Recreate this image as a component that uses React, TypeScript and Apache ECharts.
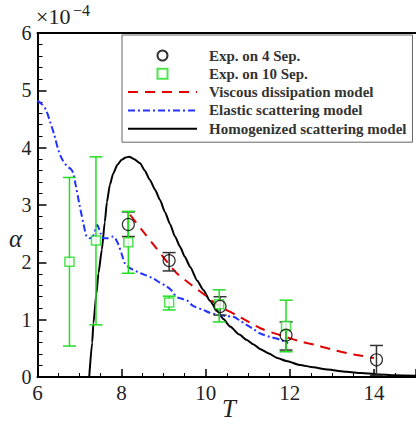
import React, { useEffect, useRef } from "react";
import * as echarts from "echarts";

// Model curves (T, alpha x 1e-4)
const T_VISCOUS = [8.2, 8.5, 8.8, 9.1, 9.3, 9.6, 10.0, 10.3, 10.7, 11.0, 11.3, 11.6, 11.9, 12.2, 12.6, 13.0, 13.4, 13.7, 14.0];
const A_VISCOUS = [2.83, 2.55, 2.27, 1.99, 1.82, 1.64, 1.42, 1.25, 1.09, 0.97, 0.85, 0.77, 0.70, 0.63, 0.56, 0.48, 0.41, 0.37, 0.33];

const T_ELASTIC = [6.0, 6.1, 6.2, 6.3, 6.4, 6.5, 6.6, 6.7, 6.8, 6.85, 6.9, 7.0, 7.1, 7.17, 7.25, 7.33, 7.42, 7.5, 7.56, 7.65, 7.8, 7.9, 8.0, 8.08, 8.2, 8.36, 8.55, 8.75, 8.9, 9.07, 9.2, 9.3, 9.45, 9.55, 9.7, 9.94, 10.1, 10.34, 10.5, 10.66, 10.8, 10.97, 11.15, 11.29, 11.53, 11.77, 11.96];
const A_ELASTIC = [4.82, 4.76, 4.66, 4.45, 4.22, 3.95, 3.78, 3.68, 3.62, 3.55, 3.38, 3.0, 2.65, 2.45, 2.42, 2.47, 2.65, 2.5, 2.42, 2.42, 2.45, 2.35, 2.15, 1.98, 1.9, 1.84, 1.78, 1.72, 1.65, 1.58, 1.5, 1.4, 1.36, 1.34, 1.24, 1.17, 1.12, 1.08, 1.06, 1.05, 0.99, 0.91, 0.83, 0.76, 0.7, 0.65, 0.59];

const T_HOMOG = [7.23, 7.3, 7.33, 7.4, 7.45, 7.53, 7.6, 7.65, 7.72, 7.8, 7.9, 8.0, 8.1, 8.18, 8.3, 8.44, 8.55, 8.67, 8.8, 8.91, 9.03, 9.15, 9.27, 9.39, 9.5, 9.63, 9.8, 9.94, 10.1, 10.26, 10.42, 10.58, 10.8, 10.97, 11.13, 11.29, 11.5, 11.7, 11.92, 12.24, 12.56, 12.9, 13.35, 13.7, 14.06, 14.5, 15.0];
const A_HOMOG = [0, 0.6, 0.94, 1.45, 1.81, 2.22, 2.7, 3.05, 3.35, 3.55, 3.7, 3.79, 3.83, 3.84, 3.8, 3.73, 3.6, 3.44, 3.26, 3.09, 2.88, 2.67, 2.45, 2.27, 2.1, 1.92, 1.68, 1.52, 1.33, 1.17, 1.01, 0.88, 0.74, 0.65, 0.57, 0.49, 0.41, 0.33, 0.28, 0.21, 0.17, 0.13, 0.09, 0.07, 0.05, 0.03, 0.02];

// Experiments
const T_SEP4 = [8.16, 9.13, 10.34, 11.91, 14.06];
const A_SEP4 = [2.66, 2.03, 1.23, 0.73, 0.30];
const LO_SEP4 = [2.45, 1.85, 1.08, 0.47, 0.03];
const HI_SEP4 = [2.88, 2.17, 1.40, 0.96, 0.55];

const T_SEP10 = [6.76, 7.39, 8.16, 9.13, 10.32, 11.91];
const A_SEP10 = [2.01, 2.38, 2.35, 1.30, 1.27, 0.89];
const LO_SEP10 = [0.54, 0.91, 1.81, 1.17, 0.96, 0.44];
const HI_SEP10 = [3.48, 3.84, 2.89, 1.41, 1.52, 1.34];

const X_TICKS = [6, 8, 10, 12, 14];
const Y_TICKS = [0, 1, 2, 3, 4, 5, 6];

const zip = (a: number[], b: number[]) => a.map((v, i) => [v, b[i]]);
const zip3 = (a: number[], b: number[], c: number[]) => a.map((v, i) => [v, b[i], c[i]]);

const SERIF = "Liberation Serif";
const GREEN = "#22dd22";
const SQUARE = "path://M0,0L10,0L10,10L0,10Z";

function errorBar(color: string) {
  return (params: any, api: any) => {
    const x = api.value(0);
    const lo = api.coord([x, api.value(1)]);
    const hi = api.coord([x, api.value(2)]);
    const hw = 6.5;
    const st = { stroke: color, lineWidth: 1.5 };
    return {
      type: "group",
      children: [
        { type: "line", shape: { x1: lo[0], y1: lo[1], x2: hi[0], y2: hi[1] }, style: st },
        { type: "line", shape: { x1: lo[0] - hw, y1: lo[1], x2: lo[0] + hw, y2: lo[1] }, style: st },
        { type: "line", shape: { x1: hi[0] - hw, y1: hi[1], x2: hi[0] + hw, y2: hi[1] }, style: st },
      ],
    };
  };
}

export default function App() {
  const ref = useRef<HTMLDivElement>(null);
  useEffect(() => {
    if (!ref.current) return;
    const chart = echarts.init(ref.current, null, { renderer: "svg" });
    const noSym = { color: "rgba(0,0,0,0)" };
    chart.setOption({
      animation: false,
      backgroundColor: "#fff",
      grid: { left: 37.5, right: 0, top: 33, bottom: 48, containLabel: false },
      xAxis: [
        {
          type: "value",
          min: 6,
          max: 15,
          interval: 2,
          axisLine: { lineStyle: { color: "#000", width: 2 } },
          axisTick: { inside: true, length: 8, lineStyle: { color: "#000", width: 1.5 } },
          minorTick: { show: true, splitNumber: 4, length: 4, lineStyle: { color: "#000", width: 1 } },
          splitLine: { show: false },
          axisLabel: {
            margin: 5,
            fontFamily: SERIF,
            fontSize: 21,
            color: "#222",
            showMaxLabel: false,
            formatter: (v: number) => (X_TICKS.includes(v) ? String(v) : ""),
          },
        },
        {
          type: "value",
          position: "top",
          min: 6,
          max: 15,
          axisLine: { show: true, lineStyle: { color: "#000", width: 2 } },
          axisTick: { show: false },
          axisLabel: { show: false },
          splitLine: { show: false },
        },
      ],
      yAxis: {
        type: "value",
        min: 0,
        max: 6,
        interval: 1,
        axisLine: { show: true, lineStyle: { color: "#000", width: 2 } },
        axisTick: { inside: true, length: 9, lineStyle: { color: "#000", width: 1.5 } },
        minorTick: { show: true, splitNumber: 5, length: 5, lineStyle: { color: "#000", width: 1 } },
        splitLine: { show: false },
        axisLabel: {
          margin: 6,
          fontFamily: SERIF,
          fontSize: 20,
          color: "#222",
          formatter: (v: number) => (Y_TICKS.includes(v) ? String(v) : ""),
        },
      },
      legend: {
        orient: "vertical",
        left: 122,
        top: 35,
        padding: [13, 6, 6, 5],
        itemWidth: 69,
        itemHeight: 10,
        itemGap: 3.3,
        borderColor: "#666",
        borderWidth: 1,
        backgroundColor: "#fff",
        textStyle: {
          fontFamily: SERIF,
          fontWeight: "bold",
          fontSize: 15,
          color: "#333",
          padding: [0, 0, 0, 7],
        },
        data: [
          "Exp. on 4 Sep.",
          "Exp. on 10 Sep.",
          "Viscous dissipation model",
          "Elastic scattering model",
          "Homogenized scattering model",
        ],
      },
      graphic: [
        {
          type: "text",
          left: 36,
          top: 5,
          style: { text: "×10", font: "22px 'Liberation Serif'", fill: "#222" },
        },
        {
          type: "text",
          left: 73,
          top: 2,
          style: { text: "−4", font: "16px 'Liberation Serif'", fill: "#222" },
        },
        {
          type: "text",
          left: 9,
          top: 226,
          style: { text: "α", font: "italic 25px 'Liberation Serif'", fill: "#222" },
        },
        {
          type: "text",
          left: 222,
          top: 396,
          style: { text: "T", font: "italic 25px 'Liberation Serif'", fill: "#222" },
        },
      ],
      series: [
        {
          name: "Homogenized scattering model",
          type: "line",
          data: zip(T_HOMOG, A_HOMOG),
          symbol: "none",
          smooth: 0.2,
          smoothMonotone: "x",
          lineStyle: { color: "#000", width: 2 },
          itemStyle: noSym,
          z: 2,
        },
        {
          name: "Viscous dissipation model",
          type: "line",
          data: zip(T_VISCOUS, A_VISCOUS),
          symbol: "none",
          smooth: 0.3,
          lineStyle: { color: "#e00000", width: 2, type: [10, 7] },
          itemStyle: noSym,
          z: 3,
        },
        {
          name: "Elastic scattering model",
          type: "line",
          data: zip(T_ELASTIC, A_ELASTIC),
          symbol: "none",
          smooth: 0.3,
          lineStyle: { color: "#2233ff", width: 2, type: [7, 3, 2, 3] },
          itemStyle: noSym,
          z: 3,
        },
        {
          name: "err4",
          type: "custom",
          renderItem: errorBar("#333"),
          encode: { x: 0, y: [1, 2] },
          data: zip3(T_SEP4, LO_SEP4, HI_SEP4),
          z: 4,
        },
        {
          name: "err10",
          type: "custom",
          renderItem: errorBar(GREEN),
          encode: { x: 0, y: [1, 2] },
          data: zip3(T_SEP10, LO_SEP10, HI_SEP10),
          z: 4,
        },
        {
          name: "Exp. on 10 Sep.",
          type: "scatter",
          data: zip(T_SEP10, A_SEP10),
          symbol: SQUARE,
          symbolSize: 9,
          symbolKeepAspect: true,
          itemStyle: { color: "#fff", borderColor: GREEN, borderWidth: 1.5 },
          z: 5,
        },
        {
          name: "Exp. on 4 Sep.",
          type: "scatter",
          data: zip(T_SEP4, A_SEP4),
          symbol: "circle",
          symbolSize: 12,
          itemStyle: { color: "rgba(255,255,255,0)", borderColor: "#000", borderWidth: 1.2 },
          z: 6,
        },
      ],
    });
    return () => chart.dispose();
  }, []);
  return (
    <div
      ref={ref}
      style={{ position: "fixed", left: 0, top: 0, width: 416, height: 425, background: "#fff" }}
    />
  );
}
